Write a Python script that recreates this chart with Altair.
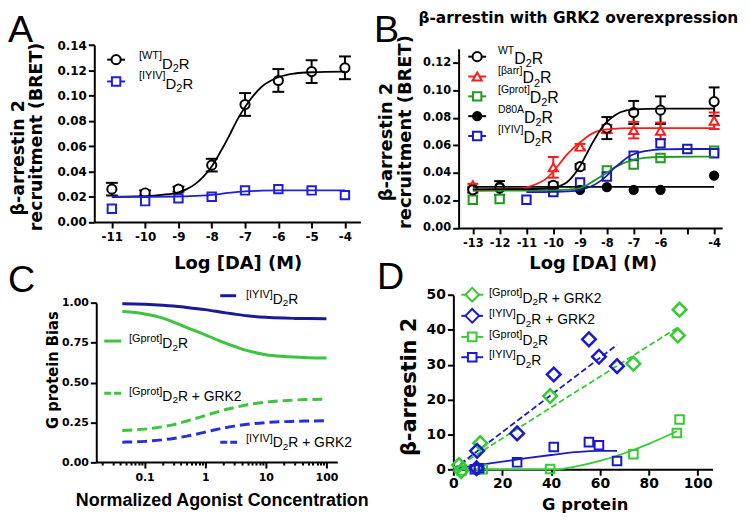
import altair as alt
import pandas as pd

W, H = 740, 506
FB = "DejaVu Sans"
FL = "Liberation Sans"
FN = "Liberation Sans Narrow, DejaVu Sans Condensed, Liberation Sans"

# ---------------- Panel A data ----------------
A_X = [-11, -10, -9, -8, -7, -6, -5, -4]
A_WT = [0.026, 0.023, 0.026, 0.045, 0.093, 0.112, 0.119, 0.122]
A_WT_ERR = [0.005, 0.002, 0.002, 0.005, 0.009, 0.009, 0.009, 0.009]
A_IYIV = [0.0105, 0.0165, 0.0187, 0.0200, 0.0250, 0.0260, 0.0250, 0.0213]
A_WT_FIT_X = [-11, -10, -9.5, -9, -8.75, -8.5, -8.25, -8, -7.75, -7.5, -7.25, -7, -6.75, -6.5, -6, -5.5, -5, -4]
A_WT_FIT_Y = [0.0198, 0.0205, 0.0215, 0.0235, 0.026, 0.030, 0.036, 0.044, 0.055, 0.067, 0.080, 0.091, 0.100, 0.107, 0.1145, 0.1175, 0.1185, 0.119]
A_IYIV_FIT_X = [-11, -10, -9, -8.5, -8, -7.5, -7, -6.5, -6, -5, -4]
A_IYIV_FIT_Y = [0.020, 0.020, 0.0202, 0.0207, 0.0215, 0.023, 0.0242, 0.0248, 0.025, 0.025, 0.025]

# ---------------- Panel B data ----------------
B_WT_X = [-13, -12, -10, -9, -8, -7, -6, -4]
B_WT = [0.0277, 0.029, 0.031, 0.0445, 0.0725, 0.0838, 0.0855, 0.0917]
B_WT_ERR = [0.002, 0.005, 0.002, 0.002, 0.008, 0.0084, 0.010, 0.0103]
B_BARR_X = [-13, -10, -9, -8, -7, -6, -4]
B_BARR = [0.031, 0.044, 0.059, 0.0718, 0.071, 0.0705, 0.0778]
B_BARR_ERR = [0.001, 0.0075, 0.002, 0.003, 0.006, 0.006, 0.006]
B_GPROT_X = [-13, -12, -10, -8, -7, -6, -4]
B_GPROT = [0.0205, 0.021, 0.027, 0.0417, 0.046, 0.0508, 0.056]
B_D80A_X = [-13, -12, -10, -9, -8, -7, -6, -4]
B_D80A = [0.0285, 0.030, 0.030, 0.0277, 0.0296, 0.0277, 0.0277, 0.038]
B_IYIV_X = [-11, -10, -9, -8, -7, -6, -5, -4]
B_IYIV = [0.0205, 0.026, 0.033, 0.0373, 0.0525, 0.0614, 0.0573, 0.0542]

B_WT_FIT_X = [-13, -11, -10, -9.75, -9.5, -9.25, -9, -8.75, -8.5, -8.25, -8, -7.75, -7.5, -7, -6, -5, -4]
B_WT_FIT_Y = [0.028, 0.0282, 0.029, 0.0305, 0.033, 0.038, 0.045, 0.054, 0.063, 0.071, 0.077, 0.081, 0.084, 0.086, 0.0866, 0.0866, 0.0866]
B_BARR_FIT_X = [-13, -11.5, -11, -10.75, -10.5, -10.25, -10, -9.75, -9.5, -9.25, -9, -8.75, -8.5, -8, -7, -4]
B_BARR_FIT_Y = [0.028, 0.0285, 0.0295, 0.031, 0.033, 0.036, 0.041, 0.047, 0.053, 0.058, 0.062, 0.066, 0.069, 0.0715, 0.0725, 0.0725]
B_GPROT_FIT_X = [-13, -10, -9.5, -9, -8.75, -8.5, -8.25, -8, -7.75, -7.5, -7.25, -7, -6.5, -6, -4]
B_GPROT_FIT_Y = [0.027, 0.0272, 0.0278, 0.029, 0.031, 0.034, 0.037, 0.040, 0.0435, 0.046, 0.048, 0.0495, 0.051, 0.0515, 0.0518]
B_IYIV_FIT_X = [-11, -10, -9.5, -9, -8.75, -8.5, -8.25, -8, -7.75, -7.5, -7.25, -7, -6.5, -6, -5, -4]
B_IYIV_FIT_Y = [0.026, 0.0262, 0.0265, 0.0275, 0.029, 0.031, 0.034, 0.038, 0.043, 0.047, 0.051, 0.0535, 0.056, 0.057, 0.0573, 0.0573]
B_D80A_FIT_X = [-13, -4]
B_D80A_FIT_Y = [0.0298, 0.0298]

# ---------------- Panel C data ----------------
C_X = [0.043, 0.07, 0.1, 0.2, 0.3, 0.5, 1, 2, 3, 5, 10, 20, 30, 50, 100]
C_IYIV = [0.995, 0.994, 0.992, 0.986, 0.981, 0.972, 0.958, 0.940, 0.930, 0.919, 0.910, 0.905, 0.903, 0.902, 0.901]
C_GPROT = [0.946, 0.940, 0.931, 0.905, 0.880, 0.845, 0.800, 0.752, 0.728, 0.700, 0.675, 0.664, 0.660, 0.656, 0.654]
C_GPROT_GRK2 = [0.198, 0.202, 0.207, 0.222, 0.235, 0.258, 0.292, 0.326, 0.342, 0.360, 0.377, 0.386, 0.390, 0.393, 0.395]
C_IYIV_GRK2 = [0.125, 0.127, 0.130, 0.140, 0.148, 0.163, 0.188, 0.214, 0.226, 0.238, 0.248, 0.254, 0.256, 0.258, 0.260]
C_MAJOR = [0.1, 1, 10, 100]
C_MINOR = [0.02, 0.03, 0.04, 0.05, 0.06, 0.07, 0.08, 0.09,
           0.2, 0.3, 0.4, 0.5, 0.6, 0.7, 0.8, 0.9,
           2, 3, 4, 5, 6, 7, 8, 9,
           20, 30, 40, 50, 60, 70, 80, 90]

# ---------------- Panel D data ----------------
D_GG_X = [2.3, 3.2, 11, 39.6, 73.7, 91.9, 92.6]
D_GG_Y = [1.2, -0.5, 7.5, 21.0, 30.3, 38.4, 45.8]
D_IG_X = [9.5, 9.7, 26.1, 41.1, 55.5, 59.6, 67]
D_IG_Y = [0.3, 5.3, 10.3, 27.2, 37.3, 32.3, 29.6]
D_G_X = [3.4, 10.5, 12, 39.6, 73.7, 91.5, 92.6]
D_G_Y = [-0.3, 0.0, 0.0, 0.1, 4.3, 10.4, 14.3]
D_I_X = [8.8, 10.5, 26.1, 41.1, 55.5, 59.6, 67]
D_I_Y = [0.0, 0.3, 2.0, 6.4, 7.8, 6.9, 2.4]
D_GG_FIT_X = [0, 92.3]
D_GG_FIT_Y = [0, 40.9]
D_IG_FIT_X = [0, 67]
D_IG_FIT_Y = [0, 35.7]
D_I_FIT_X = [0, 10, 20, 30, 40, 50, 60, 67]
D_I_FIT_Y = [0.2, 1.2, 2.2, 3.2, 4.1, 4.9, 5.3, 5.3]
D_G_FIT_X = [0, 43, 50, 60, 70, 80, 91.5]
D_G_FIT_Y = [0, 0, 0.8, 2.4, 4.6, 7.3, 10.9]

# colours
BLK = "#000000"
A_BLUE = "#1f1fdb"
B_RED = "#ff1a1a"
B_GREEN = "#1e9a1e"
B_BLUE = "#1a1ab8"
C_BLUE = "#1a1a99"
C_BLUE2 = "#2330d8"
C_GREEN = "#3dc43d"
D_GREEN = "#33cc33"
D_BLUE = "#1a1acc"


def xaxis(offset, values, fs, fmt=None, expr=None, tick=6, pad=4):
    kw = dict(orient="bottom", offset=offset, values=values, title=None, grid=False,
              domainColor="black", domainWidth=2, tickColor="black", tickWidth=2,
              tickSize=tick, labelFont=FB, labelFontWeight="bold", labelFontSize=fs,
              labelColor="black", labelPadding=pad, labelOverlap=False, labelFlush=False)
    if fmt:
        kw["format"] = fmt
    if expr:
        kw["labelExpr"] = expr
    return alt.Axis(**kw)


def yaxis(offset, values, fs, fmt=None):
    kw = dict(orient="left", offset=offset, values=values, title=None, grid=False,
              domainColor="black", domainWidth=2, tickColor="black", tickWidth=2,
              tickSize=6, labelFont=FB, labelFontWeight="bold", labelFontSize=fs,
              labelColor="black", labelPadding=2, labelOverlap=False, labelFlush=False)
    if fmt:
        kw["format"] = fmt
    return alt.Axis(**kw)


def encs(xs, ys, xa, ya):
    def X(f="x"):
        return alt.X(f"{f}:Q", scale=xs, axis=xa)

    def Y(f="y"):
        return alt.Y(f"{f}:Q", scale=ys, axis=ya)
    return X, Y


def curve(X, Y, xv, yv, color, width=1.8, dash=None):
    df = pd.DataFrame({"x": xv, "y": yv})
    kw = dict(color=color, strokeWidth=width, interpolate="monotone")
    if dash:
        kw["strokeDash"] = dash
    return alt.Chart(df).mark_line(**kw).encode(x=X(), y=Y())


def pts(X, Y, xv, yv, shape, color, size, fill="white", sw=2):
    df = pd.DataFrame({"x": xv, "y": yv})
    return alt.Chart(df).mark_point(shape=shape, size=size, filled=True, fill=fill,
                                    stroke=color, strokeWidth=sw, opacity=1).encode(x=X(), y=Y())


def errbars(X, Y, xv, yv, ev, color, cap=11):
    lo = [a - b for a, b in zip(yv, ev)]
    hi = [a + b for a, b in zip(yv, ev)]
    df = pd.DataFrame({"x": xv, "lo": lo, "hi": hi})
    rule = alt.Chart(df).mark_rule(color=color, strokeWidth=2).encode(
        x=X(), y=Y("lo"), y2=alt.Y2("hi:Q"))
    caps = pd.DataFrame({"x": list(xv) + list(xv), "y": lo + hi})
    tk = alt.Chart(caps).mark_tick(orient="horizontal", size=cap, thickness=2,
                                   color=color, opacity=1).encode(x=X(), y=Y())
    return [rule, tk]


# ---------------- Panel A ----------------
XA, YA = encs(
    alt.Scale(domain=[-11.527, -3.535], range=[87, 355.3], nice=False, zero=False),
    alt.Scale(domain=[0, 0.14], range=[213.7, 35.3], nice=False, zero=False),
    xaxis(213.7 - H, A_X, 12, expr="'-' + abs(datum.value)"),
    yaxis(-87, [0, 0.02, 0.04, 0.06, 0.08, 0.10, 0.12, 0.14], 12, ".2f"),
)
panelA = alt.layer(
    *errbars(XA, YA, A_X, A_WT, A_WT_ERR, BLK, 12),
    pts(XA, YA, A_X, A_WT, "circle", BLK, 85),
    pts(XA, YA, A_X, A_IYIV, "square", A_BLUE, 72),
    curve(XA, YA, A_WT_FIT_X, A_WT_FIT_Y, BLK),
    curve(XA, YA, A_IYIV_FIT_X, A_IYIV_FIT_Y, A_BLUE),
)

# ---------------- Panel B ----------------
XB, YB = encs(
    alt.Scale(domain=[-13.53, -3.70], range=[454.3, 720], nice=False, zero=False),
    alt.Scale(domain=[0, 0.13], range=[219.7, 39.1], nice=False, zero=False),
    xaxis(219.7 - H, list(range(-13, -3)), 11.5,
          expr="datum.value == -5 ? '' : '-' + abs(datum.value)"),
    yaxis(-454.3, [0, 0.02, 0.04, 0.06, 0.08, 0.10, 0.12], 11.5, ".2f"),
)
panelB = alt.layer(
    *errbars(XB, YB, B_WT_X, B_WT, B_WT_ERR, BLK, 11),
    *errbars(XB, YB, B_BARR_X, B_BARR, B_BARR_ERR, B_RED, 11),
    pts(XB, YB, B_GPROT_X, B_GPROT, "square", B_GREEN, 72),
    pts(XB, YB, B_IYIV_X, B_IYIV, "square", B_BLUE, 72),
    pts(XB, YB, B_D80A_X, B_D80A, "circle", BLK, 70, fill=BLK),
    pts(XB, YB, B_BARR_X, B_BARR, "triangle-up", B_RED, 85),
    pts(XB, YB, B_WT_X, B_WT, "circle", BLK, 85),
    curve(XB, YB, B_D80A_FIT_X, B_D80A_FIT_Y, BLK),
    curve(XB, YB, B_GPROT_FIT_X, B_GPROT_FIT_Y, B_GREEN),
    curve(XB, YB, B_IYIV_FIT_X, B_IYIV_FIT_Y, B_BLUE),
    curve(XB, YB, B_BARR_FIT_X, B_BARR_FIT_Y, B_RED),
    curve(XB, YB, B_WT_FIT_X, B_WT_FIT_Y, BLK),
)

# ---------------- Panel C ----------------
c_vals = sorted(C_MAJOR + C_MINOR)
c_test = "indexof([0.1, 1, 10, 100], datum.value) >= 0"
c_xaxis = alt.Axis(orient="bottom", offset=455.7 - H, values=c_vals, title=None, grid=False,
                   domainColor="black", domainWidth=2, tickColor="black", tickWidth=2,
                   tickSize={"condition": {"test": c_test, "value": 6}, "value": 3},
                   labelFont=FB, labelFontWeight="bold", labelFontSize=11, labelColor="black",
                   labelPadding=4, labelOverlap=False, labelFlush=False, format="~g",
                   labelExpr=c_test + " ? datum.label : ''")
XC, YC = encs(
    alt.Scale(type="log", domain=[0.016, 151], range=[89, 332], nice=False),
    alt.Scale(domain=[0, 1], range=[455.7, 295.3], nice=False, zero=False),
    c_xaxis,
    yaxis(-89, [0, 0.25, 0.5, 0.75, 1.0], 11, ".2f"),
)
panelC = alt.layer(
    curve(XC, YC, C_X, C_IYIV, C_BLUE, 3),
    curve(XC, YC, C_X, C_GPROT, C_GREEN, 3),
    curve(XC, YC, C_X, C_GPROT_GRK2, C_GREEN, 3, [10, 5]),
    curve(XC, YC, C_X, C_IYIV_GRK2, C_BLUE2, 3, [10, 5]),
)

# ---------------- Panel D ----------------
XD, YD = encs(
    alt.Scale(domain=[0, 106.1], range=[449, 710.3], nice=False, zero=False),
    alt.Scale(domain=[0, 50], range=[463, 287.3], nice=False, zero=False),
    xaxis(463 - H, [0, 20, 40, 60, 80, 100], 14, pad=1),
    yaxis(-449, [0, 10, 20, 30, 40, 50], 14),
)
panelD = alt.layer(
    curve(XD, YD, D_GG_FIT_X, D_GG_FIT_Y, D_GREEN, 1.8, [6, 3]),
    curve(XD, YD, D_IG_FIT_X, D_IG_FIT_Y, D_BLUE, 1.8, [6, 3]),
    curve(XD, YD, D_G_FIT_X, D_G_FIT_Y, D_GREEN, 1.8),
    curve(XD, YD, D_I_FIT_X, D_I_FIT_Y, D_BLUE, 1.8),
    pts(XD, YD, D_G_X, D_G_Y, "square", D_GREEN, 75, fill="transparent"),
    pts(XD, YD, D_I_X, D_I_Y, "square", D_BLUE, 75, fill="transparent"),
    pts(XD, YD, D_GG_X, D_GG_Y, "diamond", D_GREEN, 190, fill="transparent", sw=2.5),
    pts(XD, YD, D_IG_X, D_IG_Y, "diamond", D_BLUE, 190, fill="transparent", sw=2.5),
)

# ---------------- legends & texts ----------------
CW = {"[": .278, "]": .278, "W": .944, "T": .611, "I": .278, "Y": .667, "V": .667,
      "G": .778, "p": .556, "r": .333, "o": .556, "t": .278, "β": .575, "a": .556,
      "D": .722, "8": .556, "0": .556, "A": .667, "2": .556, "R": .722, " ": .278,
      "+": .584, "K": .667}


def tw(s, fs):
    return sum(CW.get(ch, 0.556) for ch in s) * fs


texts = []


def T(x, y, t, s, font=FL, weight="normal", angle=0, align="left", baseline="alphabetic", c="black"):
    texts.append(dict(x=x, y=y, t=t, s=s, font=font, weight=weight, angle=angle,
                      align=align, baseline=baseline, c=c))


def label(x0, yb, sup, tail, fm, fsup, rz, fsub=None):
    fsub = fsub or fsup
    T(x0, yb - rz, sup, fsup)
    x = x0 + tw(sup, fsup)
    T(x, yb, "D", fm)
    x += tw("D", fm)
    T(x, yb + 0.2 * fm, "2", fsub)
    x += tw("2", fsub)
    T(x, yb, "R" + tail, fm)


# panel letters
T(0, 32, "A", 38)
T(369, 32, "B", 38)
T(0, 284, "C", 38)
T(372, 281, "D", 38)
# titles
T(575, 13, "β-arrestin with GRK2 overexpression", 15.5, FB, "bold", align="center")
T(232, 256, "Log [DA] (M)", 18, FB, "bold", align="center", baseline="middle")
T(590, 256, "Log [DA] (M)", 18, FB, "bold", align="center", baseline="middle")
T(11, 149, "β-arrestin 2", 17.5, FB, "bold", 270, "center", "middle")
T(29, 128, "recruitment (BRET)", 17.5, FB, "bold", 270, "center", "middle")
T(382, 133, "β-arrestin 2", 18, FB, "bold", 270, "center", "middle")
T(401, 123, "recruitment (BRET)", 18, FB, "bold", 270, "center", "middle")
T(45, 363, "G protein Bias", 16.5, FN, "bold", 270, "center", "middle")
T(216, 495, "Normalized Agonist Concentration", 18, FL, "bold", align="center", baseline="middle")
T(582, 499, "G protein", 16.5, FB, "bold", align="center", baseline="middle")
T(405, 380, "β-arrestin 2", 21, FB, "bold", 270, "center", "middle")

# legend labels
label(132, 59, "[WT]", "", 15, 11, 10)
label(132, 80, "[IYIV]", "", 15, 11, 10)
B_ROWS = [47, 67, 87, 107, 127]
for yb, sup in zip(B_ROWS, ["WT", "[βarr]", "[Gprot]", "D80A", "[IYIV]"]):
    label(494, yb + 7, sup, "", 16, 10.5, 10, 11)
D_ROWS = [287, 308.3, 329.5, 350]
for yb, sup, tail in zip(D_ROWS, ["[Gprot]", "[IYIV]", "[Gprot]", "[IYIV]"],
                         [" + GRK2", " + GRK2", "", ""]):
    label(485, yb + 8, sup, tail, 14, 11, 7, 10)
label(240, 296, "[IYIV]", "", 14, 11, 6, 10)
label(122, 341, "[Gprot]", "", 14, 11, 6, 10)
label(122, 393.7, "[Gprot]", " + GRK2", 14, 11, 6, 10)
label(240, 441, "[IYIV]", " + GRK2", 14, 11, 6, 10)

tdf = pd.DataFrame(texts)
text_layers = []
for key, g in tdf.groupby(["font", "weight", "angle", "align", "baseline"]):
    font, weight, angle, align, baseline = key
    text_layers.append(
        alt.Chart(g.drop(columns=["font", "weight", "angle", "align", "baseline"]))
        .mark_text(font=font, fontWeight=weight, angle=float(angle), align=align, baseline=baseline)
        .encode(x=alt.X("x:Q", scale=None, axis=None), y=alt.Y("y:Q", scale=None, axis=None),
                text="t:N", size=alt.Size("s:Q", scale=None, legend=None),
                color=alt.Color("c:N", scale=None, legend=None))
    )

# legend symbol lines
seg_solid = pd.DataFrame([
    dict(x1=100, x2=118, y=50, c=BLK, w=2), dict(x1=100, x2=118, y=72, c=A_BLUE, w=2),
] + [dict(x1=464, x2=482, y=y, c=c, w=2) for y, c in zip(B_ROWS, [BLK, B_RED, B_GREEN, BLK, B_BLUE])]
  + [dict(x1=457, x2=479, y=y, c=c, w=2) for y, c in zip(D_ROWS, [D_GREEN, D_BLUE, D_GREEN, D_BLUE])]
  + [dict(x1=214, x2=230, y=288, c=C_BLUE, w=3), dict(x1=97, x2=114, y=333.7, c=C_GREEN, w=3)])
seg_dash = pd.DataFrame([dict(x1=97, x2=114, y=386.3, c=C_GREEN), dict(x1=214, x2=231, y=435.7, c=C_BLUE2)])

sym_df = pd.DataFrame(
    [dict(x=109, y=50, sh="circle", c=BLK, f="white", s=85),
     dict(x=109, y=72, sh="square", c=A_BLUE, f="white", s=72)]
    + [dict(x=473, y=y, sh=sh, c=c, f=f, s=s) for y, sh, c, f, s in zip(
        B_ROWS, ["circle", "triangle-up", "square", "circle", "square"],
        [BLK, B_RED, B_GREEN, BLK, B_BLUE], ["white", "white", "white", BLK, "white"],
        [85, 85, 72, 70, 72])]
    + [dict(x=468, y=y, sh=sh, c=c, f="white", s=s) for y, sh, c, s in zip(
        D_ROWS, ["diamond", "diamond", "square", "square"],
        [D_GREEN, D_BLUE, D_GREEN, D_BLUE], [190, 190, 75, 75])]
)

pxX = lambda f: alt.X(f"{f}:Q", scale=None, axis=None)
pxY = lambda f: alt.Y(f"{f}:Q", scale=None, axis=None)

leg_lines = alt.Chart(seg_solid).mark_rule().encode(
    x=pxX("x1"), x2="x2:Q", y=pxY("y"),
    color=alt.Color("c:N", scale=None, legend=None),
    strokeWidth=alt.StrokeWidth("w:Q", scale=None, legend=None))
leg_dash = alt.Chart(seg_dash).mark_rule(strokeWidth=3, strokeDash=[7, 3]).encode(
    x=pxX("x1"), x2="x2:Q", y=pxY("y"),
    color=alt.Color("c:N", scale=None, legend=None))
leg_syms = alt.Chart(sym_df).mark_point(filled=True, opacity=1, strokeWidth=2).encode(
    x=pxX("x"), y=pxY("y"),
    shape=alt.Shape("sh:N", scale=None, legend=None),
    fill=alt.Fill("f:N", scale=None, legend=None),
    stroke=alt.Stroke("c:N", scale=None, legend=None),
    size=alt.Size("s:Q", scale=None, legend=None))

chart = alt.layer(
    panelA, panelB, panelC, panelD, leg_lines, leg_dash, leg_syms, *text_layers
).resolve_scale(x="independent", y="independent").properties(
    width=W, height=H, padding=0, background="white",
    autosize=alt.AutoSizeParams(type="none"),
).configure_view(stroke=None)

chart.save("out.html", embed_options={"renderer": "svg", "actions": False})
